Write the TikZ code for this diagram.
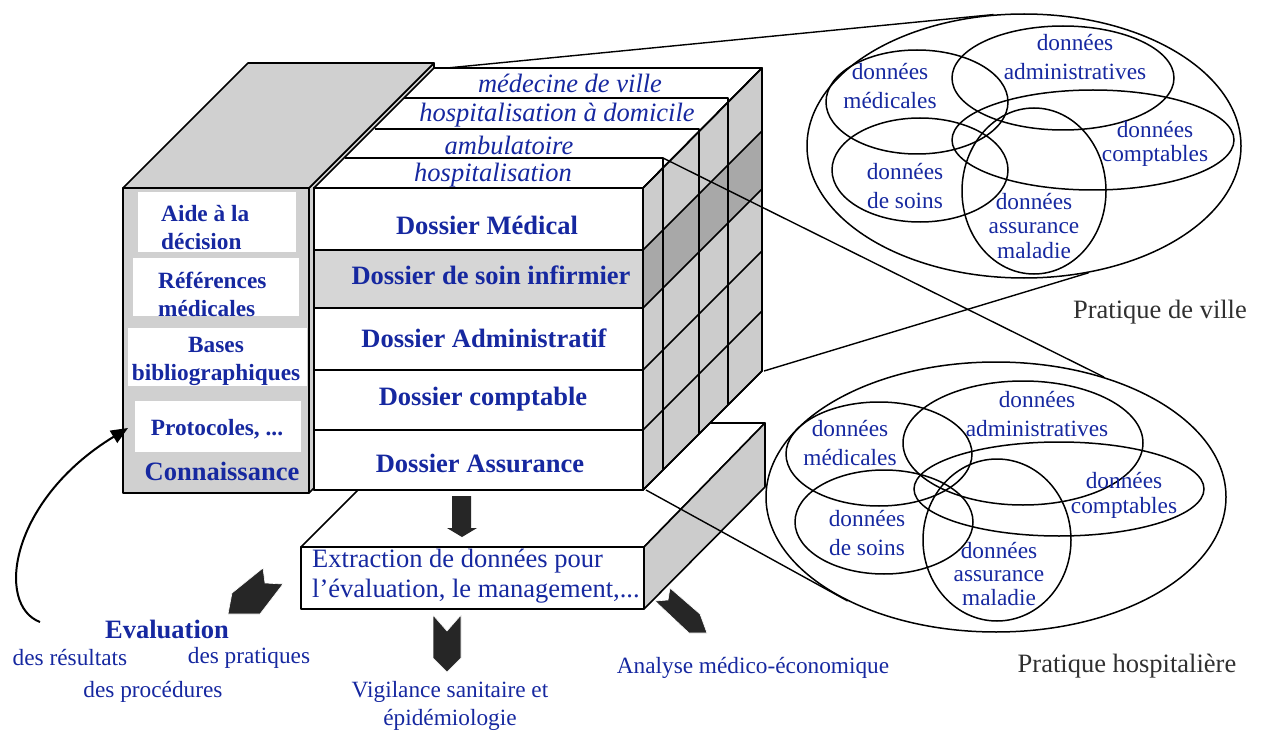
\documentclass[tikz,border=0pt]{standalone}
\usepackage{fontspec}
\setmainfont{Liberation Serif}
\usetikzlibrary{shapes.geometric,arrows.meta}
\definecolor{ink}{RGB}{22,40,160}
\definecolor{panel}{RGB}{208,208,208}
\definecolor{sideg}{RGB}{204,204,204}
\definecolor{bandg}{RGB}{168,168,168}
\definecolor{rowg}{RGB}{214,214,214}
\definecolor{arrowk}{RGB}{38,38,38}
\definecolor{capg}{RGB}{48,48,48}
\newcommand\fsBig{\fontsize{26.5}{30}\selectfont}
\newcommand\fsSmall{\fontsize{23.3}{28.5}\selectfont}

\begin{document}
\begin{tikzpicture}[x=1pt,y=-1pt,
  edge/.style={line width=1.6pt, line join=round},
  link/.style={line width=1.4pt},
  venn/.style={ellipse, draw, line width=1.5pt, inner sep=0pt},
  rowlabel/.style={font=\fsBig\bfseries, text=ink, inner sep=0pt},
  slicelabel/.style={font=\fsBig\itshape, text=ink, inner sep=0pt},
  kbox/.style={font=\fontsize{23.3}{28}\selectfont\bfseries, text=ink, inner sep=0pt},
  data/.style={font=\fsSmall, text=ink, align=center, inner sep=0pt},
  chevron/.style={fill=arrowk, draw=white, line width=0.6pt},
  caption/.style={font=\fsBig, text=capg, inner sep=0pt},
]
\useasboundingbox (0,0) rectangle (1262,733);

% ---- knowledge block ----
\filldraw[edge, fill=panel] (309,188) -- (434,63) -- (434,368) -- (309,493) -- cycle;
\filldraw[edge, fill=panel] (123,188) -- (248,63) -- (434,63) -- (309,188) -- cycle;
\filldraw[edge, fill=panel] (123,188) rectangle (309,493);
\fill[white] (138,192) rectangle (296,252);
\fill[white] (133,258) rectangle (299,316);
\fill[white] (128,328) rectangle (307,386);
\fill[white] (135,401) rectangle (301,452);

% ---- extraction box ----
\filldraw[edge, fill=white] (301,547) -- (425,423) -- (765,423) -- (644,547) -- cycle;
\filldraw[edge, fill=sideg] (644,547) -- (765,423) -- (765,487) -- (644,609) -- cycle;
\filldraw[edge, fill=white] (301,547) rectangle (644,609);

% ---- record cube ----
\filldraw[edge, fill=white] (314,188) -- (434,68) -- (762,68) -- (643,188) -- cycle;
\filldraw[edge, fill=sideg] (643,188) -- (762,68) -- (762,371) -- (643,490) -- cycle;
\fill[bandg] (643,250) -- (762,131) -- (762,189) -- (643,308) -- cycle;
\filldraw[edge, fill=white] (314,188) rectangle (643,490);
\fill[rowg] (314,250) rectangle (643,308);
\draw[edge] (314,250) -- (643,250) -- (762,131);
\draw[edge] (314,308) -- (643,308) -- (762,189);
\draw[edge] (314,370) -- (643,370) -- (762,251);
\draw[edge] (314,430) -- (643,430) -- (762,311);
\draw[edge] (345,158) -- (663,158) -- (663,470);
\draw[edge] (375,129) -- (699,129) -- (699,434);
\draw[edge] (404,98) -- (728,98) -- (728,405);
\draw[edge] (314,188) rectangle (643,490);
\draw[edge] (643,188) -- (762,68) -- (762,371) -- (643,490);

% ---- arrow from the cube to the extraction ----
\fill[arrowk] (452,496) -- (471,496) -- (471,528) -- (477,528) -- (462,537) -- (447,528) -- (452,528) -- cycle;

% ---- outgoing chevrons ----
\fill[chevron] (263,568) -- (265,583) -- (283,584) -- (260,614) -- (228,614) -- (232,593) -- cycle;
\fill[chevron] (433,615) -- (447,631) -- (461,615) -- (461,658) -- (447,672) -- (433,658) -- cycle;
\fill[chevron] (670,588) -- (668,600) -- (655,601) -- (689,633) -- (707,633) -- (700,614) -- cycle;

% ---- labels on the knowledge block ----
\node[kbox, anchor=west, align=left] (kAide) at (161,228) {Aide à la\\décision};
\node[kbox, anchor=west, align=left] (kRef) at (158,294) {Références\\médicales};
\node[kbox, align=center] (kBases) at (216,361) {Bases\\bibliographiques};
\node[kbox] (kProto) at (217,429) {Protocoles, ...};
\node[rowlabel] (kConn) at (222,471) {Connaissance};

% ---- labels on the cube ----
\node[slicelabel] (sVille) at (570,83) {médecine de ville};
\node[slicelabel] (sHad) at (557,115) {hospitalisation à domicile};
\node[slicelabel] (sAmb) at (509,145) {ambulatoire};
\node[slicelabel] (sHosp) at (493,175) {hospitalisation};
\node[rowlabel] (dMed) at (487,225) {Dossier Médical};
\node[rowlabel] (dSoin) at (491,275) {Dossier de soin infirmier};
\node[rowlabel] (dAdm) at (484,338) {Dossier Administratif};
\node[rowlabel] (dCpt) at (483,399) {Dossier comptable};
\node[rowlabel] (dAss) at (480,463) {Dossier Assurance};

\node[font=\fsBig, text=ink, align=left, anchor=west, inner sep=0pt] (extr) at (312,576)
  {Extraction de données pour\\l’évaluation, le management,...};

% ---- uses of the extracted data ----
\node[rowlabel] (eval) at (167,629) {Evaluation};
\node[data] (eRes) at (70,658) {des résultats};
\node[data] (ePrat) at (249,658) {des pratiques};
\node[data] (eProc) at (153,692) {des procédures};
\node[data] (vig) at (450,706) {Vigilance sanitaire et\\épidémiologie};
\node[data] (ana) at (753,668) {Analyse médico-économique};

% ---- feedback loop into the knowledge base ----
\coordinate (loopStart) at (40,622);
\coordinate (kIn) at (128,428);
\draw[line width=2pt, -{Triangle[length=17pt,width=14pt]}] (loopStart) .. controls (-5,605) and (10,500) .. (kIn);

% ---- city practice ----
\node[venn, minimum width=434pt, minimum height=264pt] (U0) at (1024,146) {};
\node[venn, minimum width=182pt, minimum height=104pt] (Umed) at (917,102) {};
\node[venn, minimum width=222pt, minimum height=104pt] (Uadm) at (1063,78) {};
\node[venn, minimum width=282pt, minimum height=100pt] (Ucpt) at (1093,140) {};
\node[venn, minimum width=176pt, minimum height=104pt] (Usoin) at (920,170) {};
\node[venn, minimum width=144pt, minimum height=166pt] (Uass) at (1034,191) {};
\node[data] (tUmed) at (890,86) {données\\médicales};
\node[data] (tUadm) at (1075,57) {données\\administratives};
\node[data, font=\fontsize{23.3}{23.5}\selectfont] (tUcpt) at (1155,144) {données\\comptables};
\node[data] (tUsoin) at (905,186) {données\\de soins};
\node[data, font=\fontsize{23.3}{24.5}\selectfont] (tUass) at (1034,226) {données\\assurance\\maladie};
\node[caption] (pVille) at (1160,312) {Pratique de ville};

% ---- hospital practice ----
\node[venn, minimum width=460pt, minimum height=270pt] (L0) at (996,497) {};
\node[venn, minimum width=186pt, minimum height=104pt] (Lmed) at (879,454) {};
\node[venn, minimum width=240pt, minimum height=124pt] (Ladm) at (1023,443) {};
\node[venn, minimum width=290pt, minimum height=94pt] (Lcpt) at (1059,489) {};
\node[venn, minimum width=178pt, minimum height=104pt] (Lsoin) at (884,522) {};
\node[venn, minimum width=148pt, minimum height=162pt] (Lass) at (997,540) {};
\node[data] (tLmed) at (850,443) {données\\médicales};
\node[data] (tLadm) at (1037,414) {données\\administratives};
\node[data, font=\fontsize{23.3}{25}\selectfont] (tLcpt) at (1124,495) {données\\comptables};
\node[data] (tLsoin) at (867,533) {données\\de soins};
\node[data, font=\fontsize{23.3}{23.5}\selectfont] (tLass) at (999,574) {données\\assurance\\maladie};
\node[caption] (pHosp) at (1127,666) {Pratique hospitalière};

% ---- zoom lines from the cube to both practices ----
\coordinate (cTopBack) at (447,68);
\coordinate (cRearBot) at (764,371);
\coordinate (cHospEnd) at (663,158);
\coordinate (cFrontBot) at (646,490);
\draw[link] (cTopBack) -- (U0.103);
\draw[link] (cRearBot) -- (U0.-63.6);
\draw[link] (cHospEnd) -- (L0.48.3);
\draw[link] (cFrontBot) -- (L0.215);
\end{tikzpicture}
\end{document}
